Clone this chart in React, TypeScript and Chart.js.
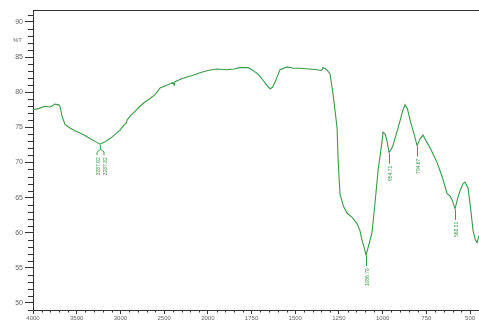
import React, { useEffect, useRef } from "react";
import { Chart, registerables } from "chart.js";

Chart.register(...registerables);

// Spectrum trace: wavenumber (cm-1) and transmittance (%T)
const wavenumbers = [
  4000, 3930, 3863, 3800, 3748, 3705, 3691, 3668, 3634, 3577, 3520, 3462, 3400,
  3348, 3290, 3233, 3180, 3119, 3060, 3005, 2960, 2935, 2924, 2890, 2830, 2776,
  2720, 2661, 2600, 2547, 2470, 2398, 2385, 2375, 2300, 2230, 2169, 2080, 2000,
  1947, 1890, 1850, 1816, 1770, 1741, 1710, 1684, 1660, 1644, 1630, 1616, 1600,
  1587, 1547, 1510, 1473, 1420, 1375, 1350, 1341, 1320, 1301, 1284, 1261, 1255,
  1244, 1225, 1204, 1175, 1147, 1130, 1118, 1105, 1095, 1080, 1061, 1044, 1026,
  1003, 998, 985, 975, 963, 950, 941, 920, 900, 885, 872, 858, 843, 820, 803,
  785, 769, 750, 729, 710, 689, 660, 632, 614, 600, 586, 570, 557, 540, 529,
  511, 495, 483, 470, 460, 449,
];
const transmittance = [
  77.5, 77.7, 78.0, 77.9, 78.3, 78.2, 78.0, 76.6, 75.4, 74.9, 74.5, 74.2, 73.8,
  73.4, 73.0, 72.6, 72.9, 73.4, 74.0, 74.6, 75.3, 75.6, 76.0, 76.6, 77.3, 78.0,
  78.6, 79.1, 79.7, 80.6, 81.0, 81.4, 81.0, 81.5, 81.9, 82.2, 82.4, 82.8, 83.1,
  83.3, 83.2, 83.3, 83.5, 83.5, 83.1, 82.5, 81.7, 80.9, 80.5, 80.7, 81.4, 82.4,
  83.2, 83.6, 83.4, 83.4, 83.3, 83.2, 83.1, 83.5, 83.2, 82.6, 79.8, 75.0, 70.5,
  65.5, 63.8, 62.8, 62.2, 61.3, 60.3, 58.9, 57.8, 56.8, 58.2, 60.0, 64.2, 68.9,
  73.1, 74.3, 74.0, 73.0, 71.4, 71.9, 72.4, 74.2, 76.0, 77.4, 78.2, 77.6, 76.0,
  74.0, 72.4, 73.4, 73.9, 73.0, 72.1, 71.1, 70.0, 68.0, 65.6, 65.2, 64.5, 63.4,
  65.0, 66.0, 67.0, 67.2, 66.3, 63.0, 60.3, 59.0, 58.6, 59.6,
];

// Peak annotations
const peakWavenumbers = [3233, 1095, 963, 803, 586];
const peakValues = [72.6, 56.8, 71.4, 72.4, 63.4];
const peakLabels = [
  ["3287.62", "3287.82"],
  ["1086.78"],
  ["954.71"],
  ["794.67"],
  ["568.31"],
];

// Axis ticks
const xTickValues = [4000, 3500, 3000, 2500, 2000, 1750, 1500, 1250, 1000, 750, 500];
const yTickValues = [50, 55, 60, 65, 70, 75, 80, 85, 90];
const yAxisTitle = "%T";

// Piecewise wavenumber axis (scale change at 2000 cm-1)
const toU = (w: number) => (w >= 2000 ? (4000 - w) / 500 : 4 + (2000 - w) / 250);

const LINE = "#3a9a48";
const AXIS = "#333333";
const TEXT = "#666666";

export default function App() {
  const ref = useRef<HTMLCanvasElement | null>(null);

  useEffect(() => {
    document.body.style.margin = "0";
    const canvas = ref.current;
    if (!canvas) return;

    const extras = {
      id: "extras",
      afterDraw(chart: any) {
        const ctx = chart.ctx;
        const xs = chart.scales.x;
        const ys = chart.scales.y;
        const area = chart.chartArea;
        ctx.save();
        ctx.strokeStyle = AXIS;
        ctx.lineWidth = 1;
        // top frame
        ctx.beginPath();
        ctx.moveTo(area.left, Math.round(area.top) + 0.5);
        ctx.lineTo(area.right, Math.round(area.top) + 0.5);
        ctx.stroke();
        // minor y ticks
        for (let v = 49; v <= 91; v++) {
          if (v % 5 === 0) continue;
          const y = Math.round(ys.getPixelForValue(v)) + 0.5;
          ctx.beginPath();
          ctx.moveTo(area.left - 5, y);
          ctx.lineTo(area.left, y);
          ctx.stroke();
        }
        // minor x ticks
        const minor: number[] = [];
        for (let w = 3900; w > 2000; w -= 100) if (w % 500 !== 0) minor.push(w);
        for (let w = 1950; w >= 450; w -= 50) if (w % 250 !== 0) minor.push(w);
        minor.forEach((w) => {
          const x = Math.round(xs.getPixelForValue(toU(w))) + 0.5;
          ctx.beginPath();
          ctx.moveTo(x, area.bottom);
          ctx.lineTo(x, area.bottom + 2.5);
          ctx.stroke();
        });
        // %T label
        ctx.fillStyle = TEXT;
        ctx.font = "6px 'Liberation Sans', Arial, sans-serif";
        ctx.textAlign = "right";
        ctx.textBaseline = "middle";
        ctx.fillText(yAxisTitle, area.left - 11, ys.getPixelForValue(87.4));
        // peak annotations
        ctx.strokeStyle = LINE;
        ctx.fillStyle = LINE;
        ctx.font = "5px 'Liberation Sans', Arial, sans-serif";
        peakWavenumbers.forEach((w, i) => {
          const x = Math.round(xs.getPixelForValue(toU(w))) + 0.5;
          const y = ys.getPixelForValue(peakValues[i]);
          const labels = peakLabels[i];
          ctx.beginPath();
          if (labels.length === 1) {
            ctx.moveTo(x, y + 1);
            ctx.lineTo(x, y + 11);
            ctx.stroke();
            ctx.save();
            ctx.translate(x + 1.5, y + 13);
            ctx.rotate(-Math.PI / 2);
            ctx.textAlign = "right";
            ctx.textBaseline = "middle";
            ctx.fillText(labels[0], 0, 0);
            ctx.restore();
          } else {
            ctx.moveTo(x, y + 1);
            ctx.lineTo(x, y + 5);
            ctx.lineTo(x - 3.5, y + 8);
            ctx.lineTo(x - 3.5, y + 11);
            ctx.moveTo(x, y + 5);
            ctx.lineTo(x + 3.5, y + 8);
            ctx.lineTo(x + 3.5, y + 11);
            ctx.stroke();
            [-3.5, 3.5].forEach((dx, k) => {
              ctx.save();
              ctx.translate(x + dx + 1.5, y + 13);
              ctx.rotate(-Math.PI / 2);
              ctx.textAlign = "right";
              ctx.textBaseline = "middle";
              ctx.fillText(labels[k], 0, 0);
              ctx.restore();
            });
          }
        });
        ctx.restore();
      },
    };

    const chart = new Chart(canvas, {
      type: "line",
      data: {
        datasets: [
          {
            data: wavenumbers.map((w, i) => ({ x: toU(w), y: transmittance[i] })),
            borderColor: LINE,
            borderWidth: 1.1,
            pointRadius: 0,
            tension: 0,
            fill: false,
          },
        ],
      },
      options: {
        responsive: false,
        animation: false,
        events: [],
        layout: { padding: { top: 10, right: 0, left: 0, bottom: 0 } },
        plugins: { legend: { display: false }, tooltip: { enabled: false } },
        scales: {
          x: {
            type: "linear",
            min: 0,
            max: toU(449),
            afterBuildTicks: (scale: any) => {
              scale.ticks = xTickValues.map((w) => ({ value: toU(w) }));
            },
            afterFit: (scale: any) => {
              scale.height = 14;
            },
            ticks: {
              autoSkip: false,
              maxRotation: 0,
              padding: 1,
              color: TEXT,
              font: { size: 6, family: "'Liberation Sans', Arial, sans-serif" },
              callback: (_v: any, i: number) => String(xTickValues[i]),
            },
            grid: { drawOnChartArea: false, tickLength: 4, color: AXIS },
            border: { display: true, color: AXIS },
          },
          y: {
            type: "linear",
            min: 49,
            max: 91.7,
            afterBuildTicks: (scale: any) => {
              scale.ticks = yTickValues.map((v) => ({ value: v }));
            },
            afterFit: (scale: any) => {
              scale.width = 33;
            },
            ticks: {
              autoSkip: false,
              padding: 2,
              color: TEXT,
              font: { size: 7, family: "'Liberation Sans', Arial, sans-serif" },
              callback: (v: any) => String(v),
            },
            grid: { drawOnChartArea: false, tickLength: 8, color: AXIS },
            border: { display: true, color: AXIS },
          },
        },
      },
      plugins: [extras],
    } as any);

    return () => chart.destroy();
  }, []);

  return (
    <div style={{ width: 479, height: 324 }}>
      <canvas ref={ref} width={479} height={324} />
    </div>
  );
}
